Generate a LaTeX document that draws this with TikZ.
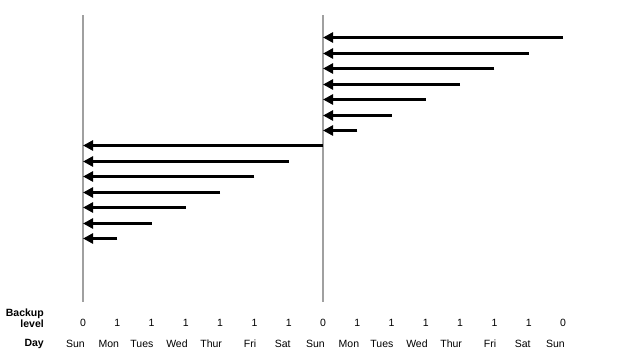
\documentclass[tikz,border=0pt]{standalone}
\usepackage{fontspec}
\setmainfont{Liberation Sans}
\usetikzlibrary{arrows.meta,calc}
\definecolor{rulegray}{RGB}{160,160,160}
\tikzset{
  lbl/.style={font=\fontsize{10.5}{11}\selectfont, inner sep=0pt},
  hdr/.style={lbl, font=\fontsize{10.5}{11}\selectfont\bfseries, align=right, anchor=east},
  backup/.style={line width=3pt, -{Triangle[length=10pt,width=10pt]}},
  dayline/.style={line width=2pt, rulegray}
}
\begin{document}
\begin{tikzpicture}[x=1pt, y=-1pt]
      \useasboundingbox (0, 0) rectangle (620, 359);

      % column positions, one per day
      \foreach \i in {0,...,14} {
        \coordinate (col\i) at ({83 + 34.286*\i}, 0);
      }

      % the two weekly full backups
      \draw[dayline] (83, 15) coordinate (top0) -- (83, 302) coordinate (bot0);
      \draw[dayline] (323, 15) coordinate (top7) -- (323, 302) coordinate (bot7);

      % second week: each day back to last Sunday
      \foreach \k in {0,...,6} {
        \coordinate (rt\k) at ({83 + 34.286*(14-\k)}, {round(37 + 15.5*\k) + 0.5});
        \coordinate (lt\k) at ({83 + 34.286*(7-\k)}, {round(145 + 15.5*\k) + 0.5});
      }
      \foreach \k in {0,...,6} {
        \draw[backup] (rt\k) -- (rt\k -| top7);
        \draw[backup] (lt\k) -- (lt\k -| top0);
      }

      % labels
      \node[hdr] (hbackup) at (44, 318) {Backup\\level};
      \node[hdr] (hday) at (44, 343.5) {Day};
      \foreach \i/\l in {0/0,1/1,2/1,3/1,4/1,5/1,6/1,7/0,8/1,9/1,10/1,11/1,12/1,13/1,14/0} {
        \node[lbl] (lvl\i) at ($(col\i) + (0, 322.5)$) {\l};
      }
      \foreach \i/\d in {0/Sun,1/Mon,2/Tues,3/Wed,4/Thur,5/Fri,6/Sat,7/Sun,8/Mon,9/Tues,10/Wed,11/Thur,12/Fri,13/Sat,14/Sun} {
        \node[lbl, anchor=east] (day\i) at ($(col\i) + (2, 343.5)$) {\d};
      }
    \end{tikzpicture}
\end{document}
